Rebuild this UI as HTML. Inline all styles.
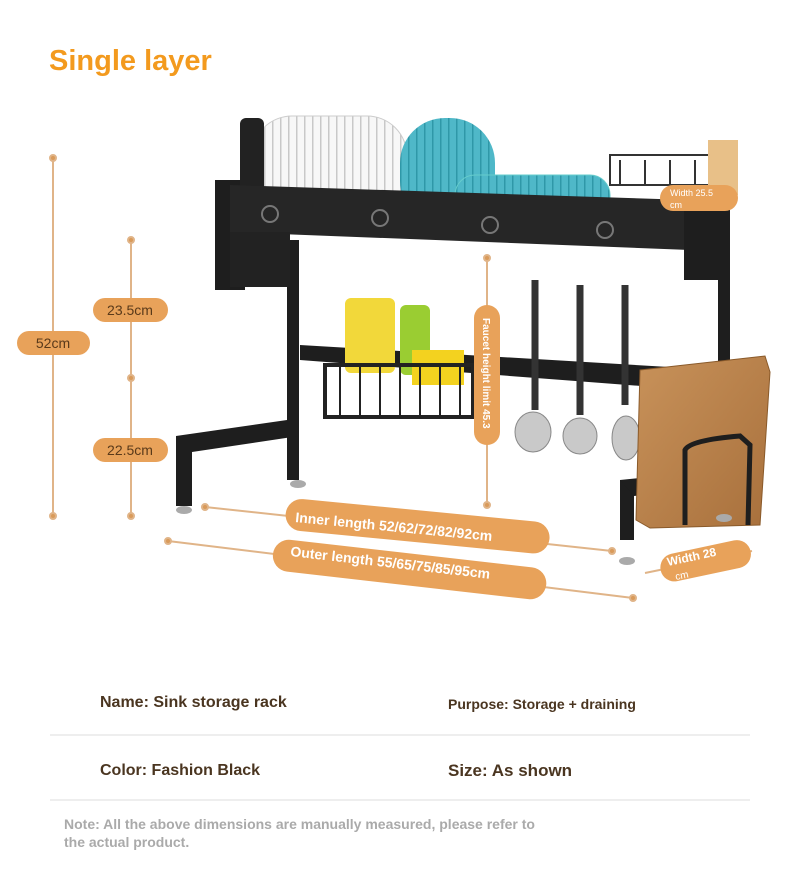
<!DOCTYPE html>
<html><head><meta charset="utf-8"><style>
html,body{margin:0;padding:0;background:#fff;width:790px;height:876px;overflow:hidden;font-family:"Liberation Sans",sans-serif}
.t{position:absolute;white-space:nowrap}
</style></head><body>
<div class="t" style="left:49px;top:45px;font-size:29px;font-weight:bold;color:#f39a1e">Single layer</div>
<svg width="790" height="876" style="position:absolute;left:0;top:0">
<defs><linearGradient id="wood" x1="0" y1="0" x2="1" y2="1"><stop offset="0" stop-color="#c8925a"/><stop offset="1" stop-color="#a8703c"/></linearGradient>
<pattern id="pl" width="8" height="10" patternUnits="userSpaceOnUse"><rect width="8" height="10" fill="#f7f7f7"/><rect width="1.5" height="10" fill="#c8c8c8"/></pattern>
<pattern id="tl" width="8" height="10" patternUnits="userSpaceOnUse"><rect width="8" height="10" fill="#4fb8c8"/><rect width="1.5" height="10" fill="#2f98a8"/></pattern></defs>
<g stroke="#e0b488" stroke-width="2" fill="#d99a5a">
<line x1="53" y1="158" x2="53" y2="516"/><circle cx="53" cy="158" r="3"/><circle cx="53" cy="516" r="3"/>
<line x1="131" y1="240" x2="131" y2="516"/><circle cx="131" cy="240" r="3"/><circle cx="131" cy="378" r="3"/><circle cx="131" cy="516" r="3"/>
<line x1="487" y1="258" x2="487" y2="505"/><circle cx="487" cy="258" r="3"/><circle cx="487" cy="505" r="3"/>
<line x1="205" y1="507" x2="612" y2="551"/><circle cx="205" cy="507" r="3"/><circle cx="612" cy="551" r="3"/>
<line x1="168" y1="541" x2="633" y2="598"/><circle cx="168" cy="541" r="3"/><circle cx="633" cy="598" r="3"/>
<line x1="645" y1="573" x2="752" y2="551"/>
</g>
<g fill="#1e1e1e">
<rect x="287" y="240" width="12" height="240"/>
<rect x="718" y="240" width="12" height="240"/>
<rect x="176" y="436" width="16" height="70"/>
<polygon points="176,436 287,420 299,420 299,436 192,452"/>
<rect x="620" y="480" width="14" height="60"/>
<polygon points="620,480 718,470 730,470 730,486 634,496"/>
<rect x="215" y="180" width="30" height="110"/>
<polygon points="300,345 720,370 720,392 300,360"/>
</g>
<rect x="252" y="116" width="155" height="110" rx="40" fill="url(#pl)" stroke="#ccc"/>
<rect x="400" y="118" width="95" height="108" rx="45" fill="url(#tl)"/>
<rect x="455" y="175" width="155" height="60" rx="20" fill="url(#tl)" stroke="#6cc"/>
<rect x="240" y="118" width="24" height="80" rx="6" fill="#222"/>
<polygon points="230,185 690,200 690,250 230,232" fill="#262626"/>
<rect x="230" y="232" width="60" height="55" fill="#222"/>
<rect x="684" y="195" width="46" height="85" fill="#1e1e1e"/>
<g fill="none" stroke="#777" stroke-width="2">
<circle cx="270" cy="214" r="8"/><circle cx="380" cy="218" r="8"/><circle cx="490" cy="225" r="8"/><circle cx="605" cy="230" r="8"/>
</g>
<g fill="none" stroke="#333" stroke-width="2"><rect x="610" y="155" width="100" height="30"/>
<path d="M620,160 v25 M645,160 v25 M670,160 v25 M695,160 v25"/></g>
<rect x="708" y="140" width="30" height="55" fill="#e8c088"/>
<rect x="345" y="298" width="50" height="75" rx="6" fill="#f2d83a"/>
<rect x="400" y="305" width="30" height="70" rx="6" fill="#9acd32"/>
<rect x="412" y="350" width="52" height="35" fill="#f3d21f"/>
<rect x="325" y="365" width="148" height="52" fill="none" stroke="#222" stroke-width="4"/>
<g stroke="#222" stroke-width="2"><line x1="340" y1="365" x2="340" y2="417"/><line x1="360" y1="365" x2="360" y2="417"/><line x1="380" y1="365" x2="380" y2="417"/><line x1="400" y1="365" x2="400" y2="417"/><line x1="420" y1="365" x2="420" y2="417"/><line x1="440" y1="365" x2="440" y2="417"/><line x1="460" y1="365" x2="460" y2="417"/></g>
<g stroke="#333" stroke-width="7"><line x1="535" y1="280" x2="535" y2="410"/><line x1="580" y1="285" x2="580" y2="415"/><line x1="625" y1="285" x2="625" y2="405"/></g>
<g fill="#c9c9c9" stroke="#888"><ellipse cx="533" cy="432" rx="18" ry="20"/><ellipse cx="580" cy="436" rx="17" ry="18"/><ellipse cx="626" cy="438" rx="14" ry="22"/></g>
<polygon points="640,370 765,356 770,372 760,525 650,528 636,520" fill="url(#wood)" stroke="#8a5a2a"/>
<path d="M685,525 L685,450 Q690,440 740,436 L750,445 L748,525" fill="none" stroke="#1e1e1e" stroke-width="5"/>
<g fill="#aaa"><ellipse cx="184" cy="510" rx="8" ry="4"/><ellipse cx="298" cy="484" rx="8" ry="4"/><ellipse cx="627" cy="561" rx="8" ry="4"/><ellipse cx="724" cy="518" rx="8" ry="4"/></g>
<g fill="#e8a25a">
<rect x="17" y="331" width="73" height="24" rx="12"/>
<rect x="93" y="298" width="75" height="24" rx="12"/>
<rect x="93" y="438" width="75" height="24" rx="12"/>
<rect x="474" y="305" width="26" height="140" rx="13"/>
<rect x="660" y="185" width="78" height="26" rx="13"/>
<g transform="rotate(5.5 415 527)"><rect x="285" y="510" width="265" height="32" rx="16"/></g>
<g transform="rotate(6.5 405 570)"><rect x="272" y="553" width="275" height="32" rx="16"/></g>
<g transform="rotate(-12 700 563)"><rect x="660" y="548" width="92" height="28" rx="14"/></g>
</g>
<g fill="#fff" font-family="Liberation Sans,sans-serif" font-size="14">
<text x="53" y="348" text-anchor="middle" fill="#5a3a1a">52cm</text>
<text x="130" y="315" text-anchor="middle" fill="#5a3a1a">23.5cm</text>
<text x="130" y="455" text-anchor="middle" fill="#5a3a1a">22.5cm</text>
<text x="670" y="196" font-size="9">Width 25.5</text><text x="670" y="208" font-size="9">cm</text>
<text transform="translate(483,318) rotate(90)" font-size="10" font-weight="bold">Faucet height limit 45.3</text>
<text transform="translate(295,522) rotate(5.5)" font-size="14" font-weight="bold">Inner length 52/62/72/82/92cm</text>
<text transform="translate(290,556) rotate(6.5)" font-size="14" font-weight="bold">Outer length 55/65/75/85/95cm</text>
<text transform="translate(668,566) rotate(-12)" font-size="12" font-weight="bold">Width 28</text>
<text transform="translate(676,580) rotate(-12)" font-size="10">cm</text>
</g>
<line x1="50" y1="735" x2="750" y2="735" stroke="#ddd"/>
<line x1="50" y1="800" x2="750" y2="800" stroke="#ddd"/>
</svg>
<div class="t" style="left:100px;top:694px;font-size:16px;font-weight:bold;color:#4a3520">Name: Sink storage rack</div>
<div class="t" style="left:448px;top:696px;font-size:14px;font-weight:bold;color:#4a3520">Purpose: Storage + draining</div>
<div class="t" style="left:100px;top:762px;font-size:16px;font-weight:bold;color:#4a3520">Color: Fashion Black</div>
<div class="t" style="left:448px;top:761px;font-size:17px;font-weight:bold;color:#4a3520">Size: As shown</div>
<div class="t" style="left:64px;top:815px;font-size:14px;font-weight:bold;color:#aaa;line-height:18px">Note: All the above dimensions are manually measured, please refer to<br>the actual product.</div>
</body></html>
